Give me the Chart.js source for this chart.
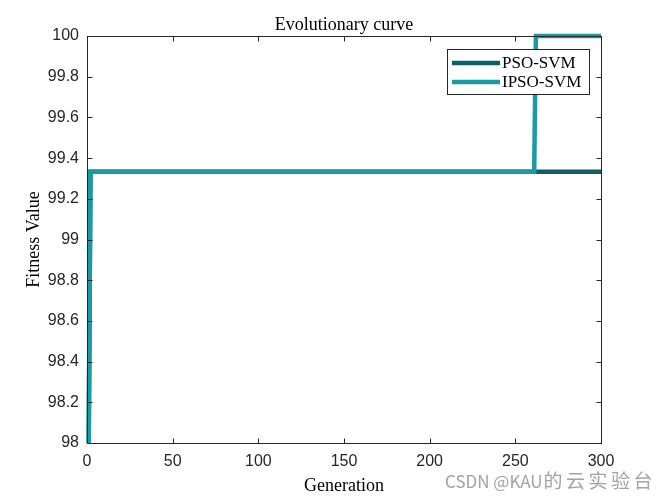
<!DOCTYPE html>
<html>
<head>
<meta charset="utf-8">
<script src="https://cdn.jsdelivr.net/npm/chart.js@4/dist/chart.umd.min.js"></script>
<style>
  html, body { margin: 0; padding: 0; background: #fff; }
  #wrap { width: 665px; height: 499px; position: relative; }
</style>
</head>
<body>
<div id="wrap"><canvas id="c" width="665" height="499"></canvas></div>
<script>
// ---- data ----
const chartTitle = 'Evolutionary curve';
const xLabel = 'Generation';
const yLabel = 'Fitness Value';
const seriesNames = ['PSO-SVM', 'IPSO-SVM'];
const psoGenerations = [1, 2, 300];
const psoValues = [98, 99.3333, 99.3333];
const ipsoGenerations = [1, 2, 261, 262, 300];
const ipsoValues = [98, 99.3333, 99.3333, 100, 100];
const xTicks = [0, 50, 100, 150, 200, 250, 300];
const yTicks = [98, 98.2, 98.4, 98.6, 98.8, 99, 99.2, 99.4, 99.6, 99.8, 100];
const watermarkLatin = 'CSDN @KAU';
const watermarkCJK = ['的', '云', '实', '验', '台'];

const colors = ['#0f5f66', '#1a9aa5'];
const axisColor = '#262626';

function pts(xs, ys) { return xs.map((x, i) => ({ x: x, y: ys[i] })); }

const boxPlugin = {
  id: 'matlabBox',
  afterDatasetsDraw(chart) {
    const { ctx, chartArea: a, scales } = chart;
    ctx.save();
    ctx.strokeStyle = axisColor;
    ctx.lineWidth = 1;
    ctx.beginPath();
    const L = Math.round(a.left) + 0.5, R = Math.round(a.right) + 0.5;
    const T = Math.round(a.top) + 0.5, B = Math.round(a.bottom) + 0.5;
    ctx.rect(L, T, R - L, B - T);
    const tl = 5;
    xTicks.forEach(v => {
      const px = Math.round(scales.x.getPixelForValue(v)) + 0.5;
      ctx.moveTo(px, B); ctx.lineTo(px, B - tl);
      ctx.moveTo(px, T); ctx.lineTo(px, T + tl);
    });
    yTicks.forEach(v => {
      const py = Math.round(scales.y.getPixelForValue(v)) + 0.5;
      ctx.moveTo(L, py); ctx.lineTo(L + tl, py);
      ctx.moveTo(R, py); ctx.lineTo(R - tl, py);
    });
    ctx.stroke();

    // title
    ctx.fillStyle = '#000';
    ctx.font = '18px "Liberation Serif"';
    ctx.textAlign = 'center';
    ctx.textBaseline = 'alphabetic';
    ctx.fillText(chartTitle, (a.left + a.right) / 2, 30);

    // legend
    const lx = 447.5, ly = 49.5, lw = 142, lh = 45;
    ctx.fillStyle = '#fff';
    ctx.fillRect(lx, ly, lw, lh);
    ctx.strokeStyle = axisColor;
    ctx.lineWidth = 1;
    ctx.strokeRect(lx, ly, lw, lh);
    ctx.font = '17px "Liberation Serif"';
    ctx.textAlign = 'left';
    ctx.textBaseline = 'middle';
    chart.data.datasets.forEach((ds, i) => {
      const yy = 63 + i * 19;
      ctx.strokeStyle = ds.borderColor;
      ctx.lineWidth = 4.5;
      ctx.beginPath();
      ctx.moveTo(452, yy); ctx.lineTo(500, yy);
      ctx.stroke();
      ctx.fillStyle = '#000';
      ctx.fillText(ds.label, 502, yy + 1);
    });

    // watermark
    ctx.fillStyle = '#a3a3a3';
    ctx.textAlign = 'left';
    ctx.textBaseline = 'alphabetic';
    ctx.font = '17px "Noto Sans CJK SC"';
    ctx.fillText(watermarkLatin, 445, 488);
    const startX = 445 + ctx.measureText(watermarkLatin).width + 1;
    ctx.font = '19px "Noto Sans CJK SC"';
    watermarkCJK.forEach((ch, i) => ctx.fillText(ch, startX + i * 22.5, 488));
    ctx.restore();
  }
};

new Chart(document.getElementById('c'), {
  type: 'line',
  data: {
    datasets: [
      { label: seriesNames[0], data: pts(psoGenerations, psoValues), borderColor: colors[0], borderWidth: 4.5, pointRadius: 0, tension: 0, fill: false, clip: 6, order: 2 },
      { label: seriesNames[1], data: pts(ipsoGenerations, ipsoValues), borderColor: colors[1], borderWidth: 4.5, pointRadius: 0, tension: 0, fill: false, clip: 6, order: 1 }
    ]
  },
  options: {
    responsive: false,
    animation: false,
    devicePixelRatio: 1,
    layout: { padding: { left: 0, right: 64, top: 36, bottom: 0 } },
    plugins: { legend: { display: false }, title: { display: false }, tooltip: { enabled: false } },
    scales: {
      x: {
        type: 'linear', min: 0, max: 300,
        afterBuildTicks: s => { s.ticks = xTicks.map(v => ({ value: v })); },
        afterFit: s => { s.height = 56; },
        ticks: { font: { family: '"Liberation Sans"', size: 16 }, color: axisColor, padding: 9, maxRotation: 0 },
        grid: { display: false, drawTicks: false },
        border: { display: true, color: axisColor, width: 1 },
        title: { display: true, text: xLabel, font: { family: '"Liberation Serif"', size: 18 }, color: '#000', padding: { top: 0, bottom: 2 } }
      },
      y: {
        min: 98, max: 100,
        afterBuildTicks: s => { s.ticks = yTicks.map(v => ({ value: v })); },
        afterFit: s => { s.width = 87; },
        ticks: { font: { family: '"Liberation Sans"', size: 16 }, color: axisColor, padding: 8, callback: v => String(parseFloat(Number(v).toFixed(1))) },
        grid: { display: false, drawTicks: false },
        border: { display: true, color: axisColor, width: 1 },
        title: { display: true, text: yLabel, font: { family: '"Liberation Serif"', size: 18 }, color: '#000', padding: { top: 23, bottom: 0 } }
      }
    }
  },
  plugins: [boxPlugin]
});
</script>
</body>
</html>
